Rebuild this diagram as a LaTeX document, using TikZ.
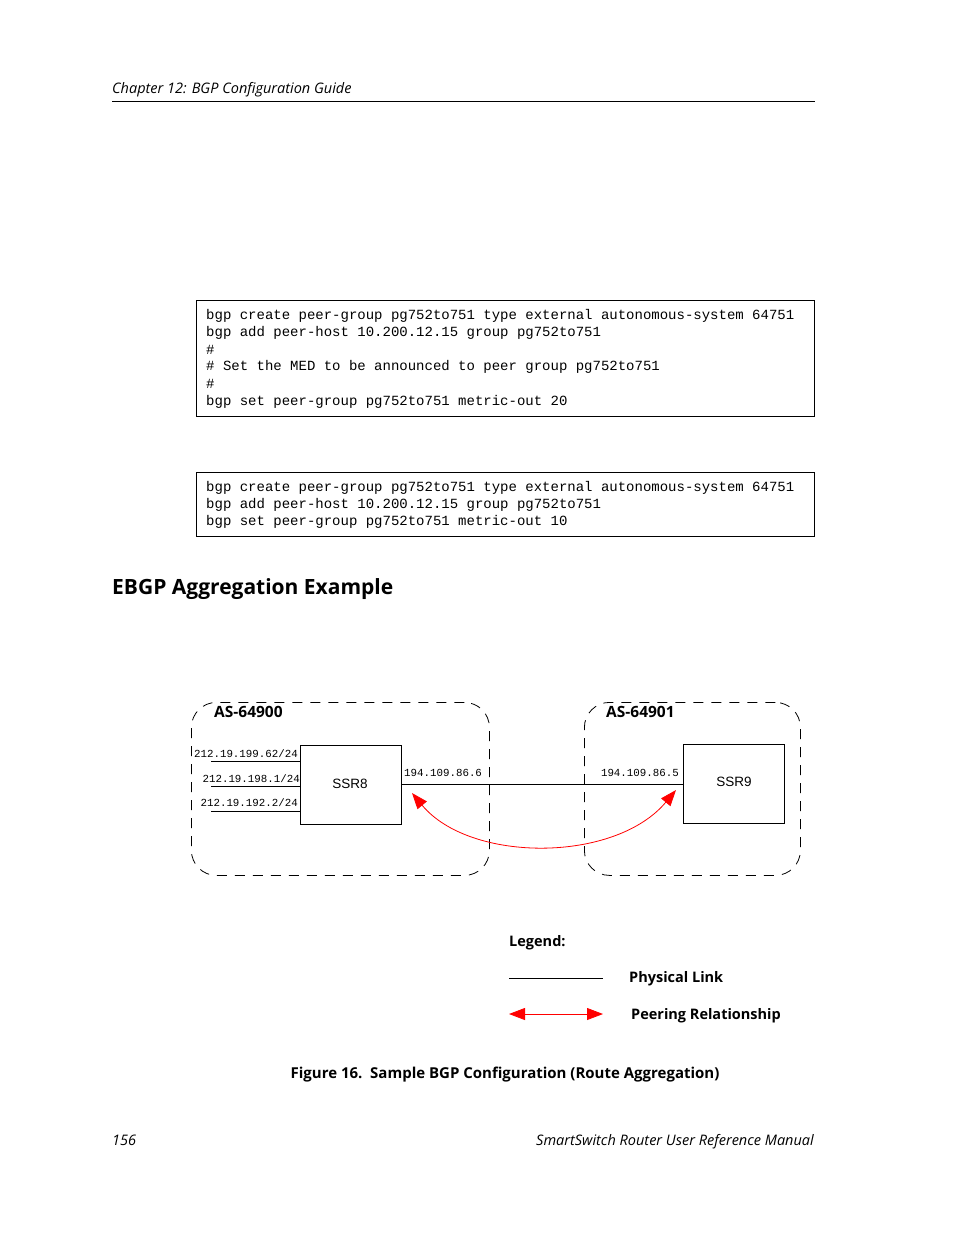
\documentclass[tikz,border=0pt]{standalone}
\usepackage{fontspec}
\setmainfont{Open Sans}
\newfontfamily\codefont{Liberation Mono}
\newfontfamily\helv{Liberation Sans}
\usetikzlibrary{arrows.meta}
\begin{document}
\begin{tikzpicture}[x=1pt,y=-1pt,
  codebox/.style={draw,line width=0.8pt,minimum width=618pt,anchor=north west,inner sep=0pt},
  codeline/.style={anchor=west,font=\codefont\fontsize{14}{17}\selectfont,inner sep=0pt},
  asregion/.style={draw,dashed,dash pattern=on 10pt off 8pt,rounded corners=25pt,line width=0.8pt,anchor=north west,inner sep=0pt},
  router/.style={draw,line width=0.9pt,anchor=north west,inner sep=0pt,font=\helv\fontsize{13.5}{15}\selectfont},
  iplabel/.style={font=\codefont\fontsize{10.8}{12}\selectfont,inner sep=0pt},
  aslabel/.style={font=\bfseries\fontsize{15.5}{17}\selectfont,anchor=west,inner sep=0pt},
  link/.style={line width=0.8pt},
  peer/.style={red,line width=0.8pt,{Triangle[length=16pt,width=12pt]}-{Triangle[length=16pt,width=12pt]}},
  legendtext/.style={font=\bfseries\fontsize{14.5}{16}\selectfont,anchor=west,inner sep=0pt}
]
\useasboundingbox (0,0) rectangle (954,1235);
% header
\node[anchor=base west,inner sep=0pt,font=\itshape\fontsize{14.5}{16}\selectfont] (hdr) at (112,93) {Chapter 12: BGP Configuration Guide};
\coordinate (hl) at (112,101);
\coordinate (hr) at (815,101);
\draw[line width=0.8pt] (hl) -- (hr);
% code box 1
\node[codebox,minimum height=116pt] (box1) at (196,300) {};
\node[codeline] (c11) at (206,316) {bgp create peer-group pg752to751 type external autonomous-system 64751};
\node[codeline] (c12) at (206,333) {bgp add peer-host 10.200.12.15 group pg752to751};
\node[codeline] (c13) at (206,350) {\#};
\node[codeline] (c14) at (206,367) {\# Set the MED to be announced to peer group pg752to751};
\node[codeline] (c15) at (206,384) {\#};
\node[codeline] (c16) at (206,402) {bgp set peer-group pg752to751 metric-out 20};
% code box 2
\node[codebox,minimum height=64pt] (box2) at (196,472) {};
\node[codeline] (c21) at (206,488) {bgp create peer-group pg752to751 type external autonomous-system 64751};
\node[codeline] (c22) at (206,505) {bgp add peer-host 10.200.12.15 group pg752to751};
\node[codeline] (c23) at (206,522) {bgp set peer-group pg752to751 metric-out 10};
% heading
\node[anchor=west,inner sep=0pt,font=\bfseries\fontsize{21}{24}\selectfont] (head) at (112,589) {EBGP Aggregation Example};
% AS regions
\node[asregion,minimum width=298pt,minimum height=173pt] (as1) at (191,702) {};
\node[asregion,minimum width=216pt,minimum height=173pt] (as2) at (584,702) {};
\node[aslabel,fill=white,inner xsep=2pt] (as1l) at (212,712) {AS-64900};
\node[aslabel,fill=white,inner xsep=2pt] (as2l) at (604,712) {AS-64901};
% routers
\node[router,minimum width=101pt,minimum height=79pt] (ssr8) at (300,745) {};
\node[font=\helv\fontsize{13.5}{15}\selectfont] (ssr8t) at (350,784) {SSR8};
\node[router,minimum width=101pt,minimum height=79pt] (ssr9) at (683,744) {};
\node[font=\helv\fontsize{13.5}{15}\selectfont] (ssr9t) at (734,782) {SSR9};
% stub networks
\coordinate (s1) at (211,761); \coordinate (t1) at (300,761);
\coordinate (s2) at (211,786); \coordinate (t2) at (300,786);
\coordinate (s3) at (211,811); \coordinate (t3) at (300,811);
\draw[link] (s1) -- (t1);
\draw[link] (s2) -- (t2);
\draw[link] (s3) -- (t3);
\node[iplabel,anchor=east,fill=white] (ip1) at (298,754) {212.19.199.62/24};
\node[iplabel,anchor=east,fill=white] (ip2) at (300,779) {212.19.198.1/24};
\node[iplabel,anchor=east,fill=white] (ip3) at (298,803) {212.19.192.2/24};
% physical link
\coordinate (l1) at (401,784);
\coordinate (l2) at (683,784);
\draw[link] (l1) -- (l2);
\node[iplabel,anchor=west] (ip4) at (404,773) {194.109.86.6};
\node[iplabel,anchor=east] (ip5) at (679,773) {194.109.86.5};
% peering
\coordinate (p1) at (412,793);
\coordinate (p2) at (676,790);
\draw[peer] (p1) .. controls (470,863) and (615,863) .. (p2);
% legend
\node[anchor=west,inner sep=0pt,font=\bfseries\fontsize{14.5}{16}\selectfont] (leg) at (509,943) {Legend:};
\coordinate (g1) at (509,978); \coordinate (g2) at (603,978);
\draw[link] (g1) -- (g2);
\node[legendtext] (lg1) at (629,979) {Physical Link};
\coordinate (g3) at (509,1014); \coordinate (g4) at (603,1014);
\draw[peer] (g3) -- (g4);
\node[legendtext] (lg2) at (631,1016) {Peering Relationship};
% caption
\node[inner sep=0pt,font=\bfseries\fontsize{15}{17}\selectfont] (cap) at (505,1075) {Figure 16.\ \ Sample BGP Configuration (Route Aggregation)};
% footer
\node[anchor=base west,inner sep=0pt,font=\itshape\fontsize{14.5}{16}\selectfont] (pg) at (112,1145) {156};
\node[anchor=base east,inner sep=0pt,font=\itshape\fontsize{14.5}{16}\selectfont] (man) at (814,1145) {SmartSwitch Router User Reference Manual};
\end{tikzpicture}
\end{document}
